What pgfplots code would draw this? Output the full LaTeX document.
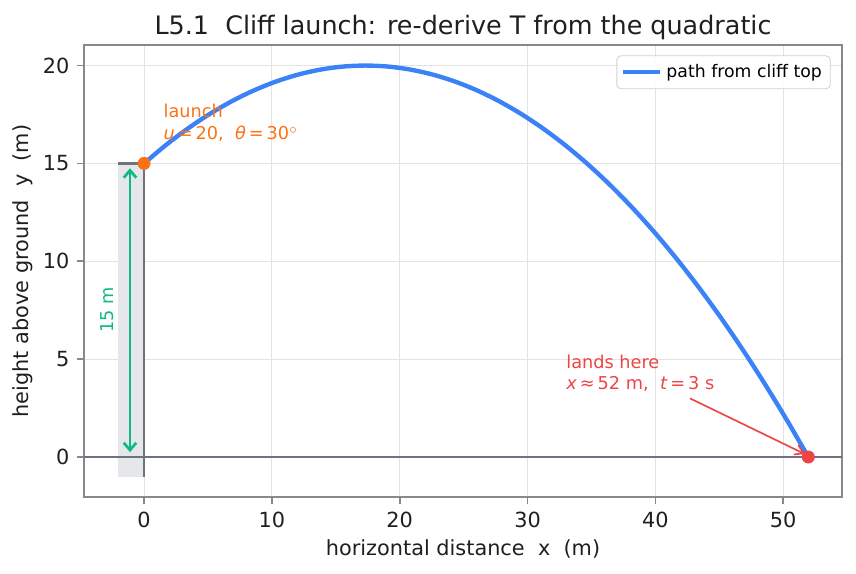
\documentclass[border=0pt]{standalone}
\usepackage{pgfplots}
\pgfplotsset{compat=1.18}
\usepackage{fontspec}
\setmainfont{DejaVu Sans}
\usetikzlibrary{arrows.meta}

\definecolor{pathblue}{HTML}{3B82F6}
\definecolor{launchorange}{HTML}{F97316}
\definecolor{landred}{HTML}{EF4444}
\definecolor{heightgreen}{HTML}{10B981}
\definecolor{cliffgray}{HTML}{6B7280}
\definecolor{cliffface}{HTML}{E5E7EB}
\definecolor{framegray}{HTML}{888888}
\definecolor{gridgray}{HTML}{E3E3E3}
\definecolor{legendgray}{HTML}{D0D0D0}
\definecolor{textdark}{HTML}{1F1F1F}

% trajectory: u = 20 m/s, theta = 30 deg, g = 10 m/s^2, sampled every 0.1 s
\pgfplotstableread{
x       y
0.000   15.00
1.732   15.95
3.464   16.80
5.196   17.55
6.928   18.20
8.660   18.75
10.392  19.20
12.124  19.55
13.856  19.80
15.588  19.95
17.321  20.00
19.053  19.95
20.785  19.80
22.517  19.55
24.249  19.20
25.981  18.75
27.713  18.20
29.445  17.55
31.177  16.80
32.909  15.95
34.641  15.00
36.373  13.95
38.105  12.80
39.837  11.55
41.569  10.20
43.301  8.75
45.033  7.20
46.765  5.55
48.497  3.80
50.229  1.95
51.962  0.00
}\trajectory

\begin{document}
\begin{tikzpicture}
\begin{axis}[
  scale only axis,
  width=363.8pt, height=217pt,
  xmin=-4.7, xmax=54.6,
  ymin=-2.05, ymax=21.05,
  xtick={0,10,20,30,40,50},
  ytick={0,5,10,15,20},
  xtick pos=bottom, ytick pos=left,
  tick align=outside,
  major tick length=3.5pt,
  tick style={framegray, line width=0.8pt},
  axis line style={framegray, line width=1pt},
  grid=major,
  grid style={gridgray, line width=0.5pt},
  /pgf/number format/assume math mode=true,
  ticklabel style={font=\fontsize{10}{12}\selectfont, text=textdark},
  xlabel={horizontal distance\ \ x\ \ (m)},
  ylabel={height above ground\ \ y\ \ (m)},
  label style={font=\fontsize{10}{12}\selectfont, text=textdark},
  xlabel style={yshift=1pt},
  ylabel style={yshift=-2pt},
  title={L5.1\ \ Cliff launch: re-derive T from the quadratic},
  title style={font=\fontsize{12.2}{14}\selectfont, text=textdark, yshift=-7pt},
  legend style={at={(0.985,0.977)}, anchor=north east,
    font=\fontsize{8.3}{10}\selectfont, draw=legendgray, rounded corners=2pt,
    fill=white, fill opacity=0.9, text opacity=1, inner sep=2pt},
  legend cell align=left,
  legend image code/.code={\draw[#1, line width=1.8pt] (0pt,0pt) -- (18pt,0pt);},
]
  % cliff body and outline
  \addplot[fill=cliffface, draw=none, forget plot] coordinates {(-2,-1) (0,-1) (0,15) (-2,15)} -- cycle;
  \addplot[cliffgray, line width=1.2pt, forget plot] coordinates {(-2,15) (0,15) (0,-1)};
  % ground
  \addplot[cliffgray, line width=1.2pt, forget plot] coordinates {(-4.7,0) (54.6,0)};
  % height of the cliff
  \addplot[heightgreen, line width=1.3pt, {Straight Barb[length=3.5pt, width=6pt]}-{Straight Barb[length=3.5pt, width=6pt]}, forget plot]
    coordinates {(-1.1,14.75) (-1.1,0.25)};
  \node[rotate=90, text=heightgreen, font=\fontsize{8.5}{10}\selectfont] at (axis cs:-2.9,7.5) {15 m};
  % trajectory
  \addplot[pathblue, line width=2.1pt, smooth] table[x=x, y=y] {\trajectory};
  \addlegendentry{path from cliff top}
  % landing annotation
  \addplot[landred, line width=0.8pt, -{Straight Barb[length=4pt, width=5pt]}, forget plot]
    coordinates {(42.7,3.0) (51.7,0.15)};
  \node[anchor=south west, align=left, text=landred, font=\fontsize{8.5}{10.5}\selectfont, inner sep=0pt]
    at (axis cs:33.0,3.3) {lands here\\\textit{x}\,≈\,52 m,\ \ \textit{t}\,=\,3 s};
  % launch annotation
  \node[anchor=south west, align=left, text=launchorange, font=\fontsize{8.5}{10.5}\selectfont, inner sep=0pt]
    at (axis cs:1.5,16.1) {launch\\\textit{u}\,=\,20,\ \ \textit{θ}\,=\,30$^\circ$};
  % end points
  \addplot[only marks, mark=*, mark size=2.9pt, mark options={fill=launchorange, draw=launchorange}, forget plot]
    coordinates {(0,15)};
  \addplot[only marks, mark=*, mark size=2.9pt, mark options={fill=landred, draw=landred}, forget plot]
    coordinates {(51.962,0)};
\end{axis}
\pgfresetboundingbox
\path ([xshift=-40.3pt, yshift=-36.5pt]current axis.south west) rectangle ([xshift=6.7pt, yshift=21.6pt]current axis.north east);
\end{tikzpicture}
\end{document}
